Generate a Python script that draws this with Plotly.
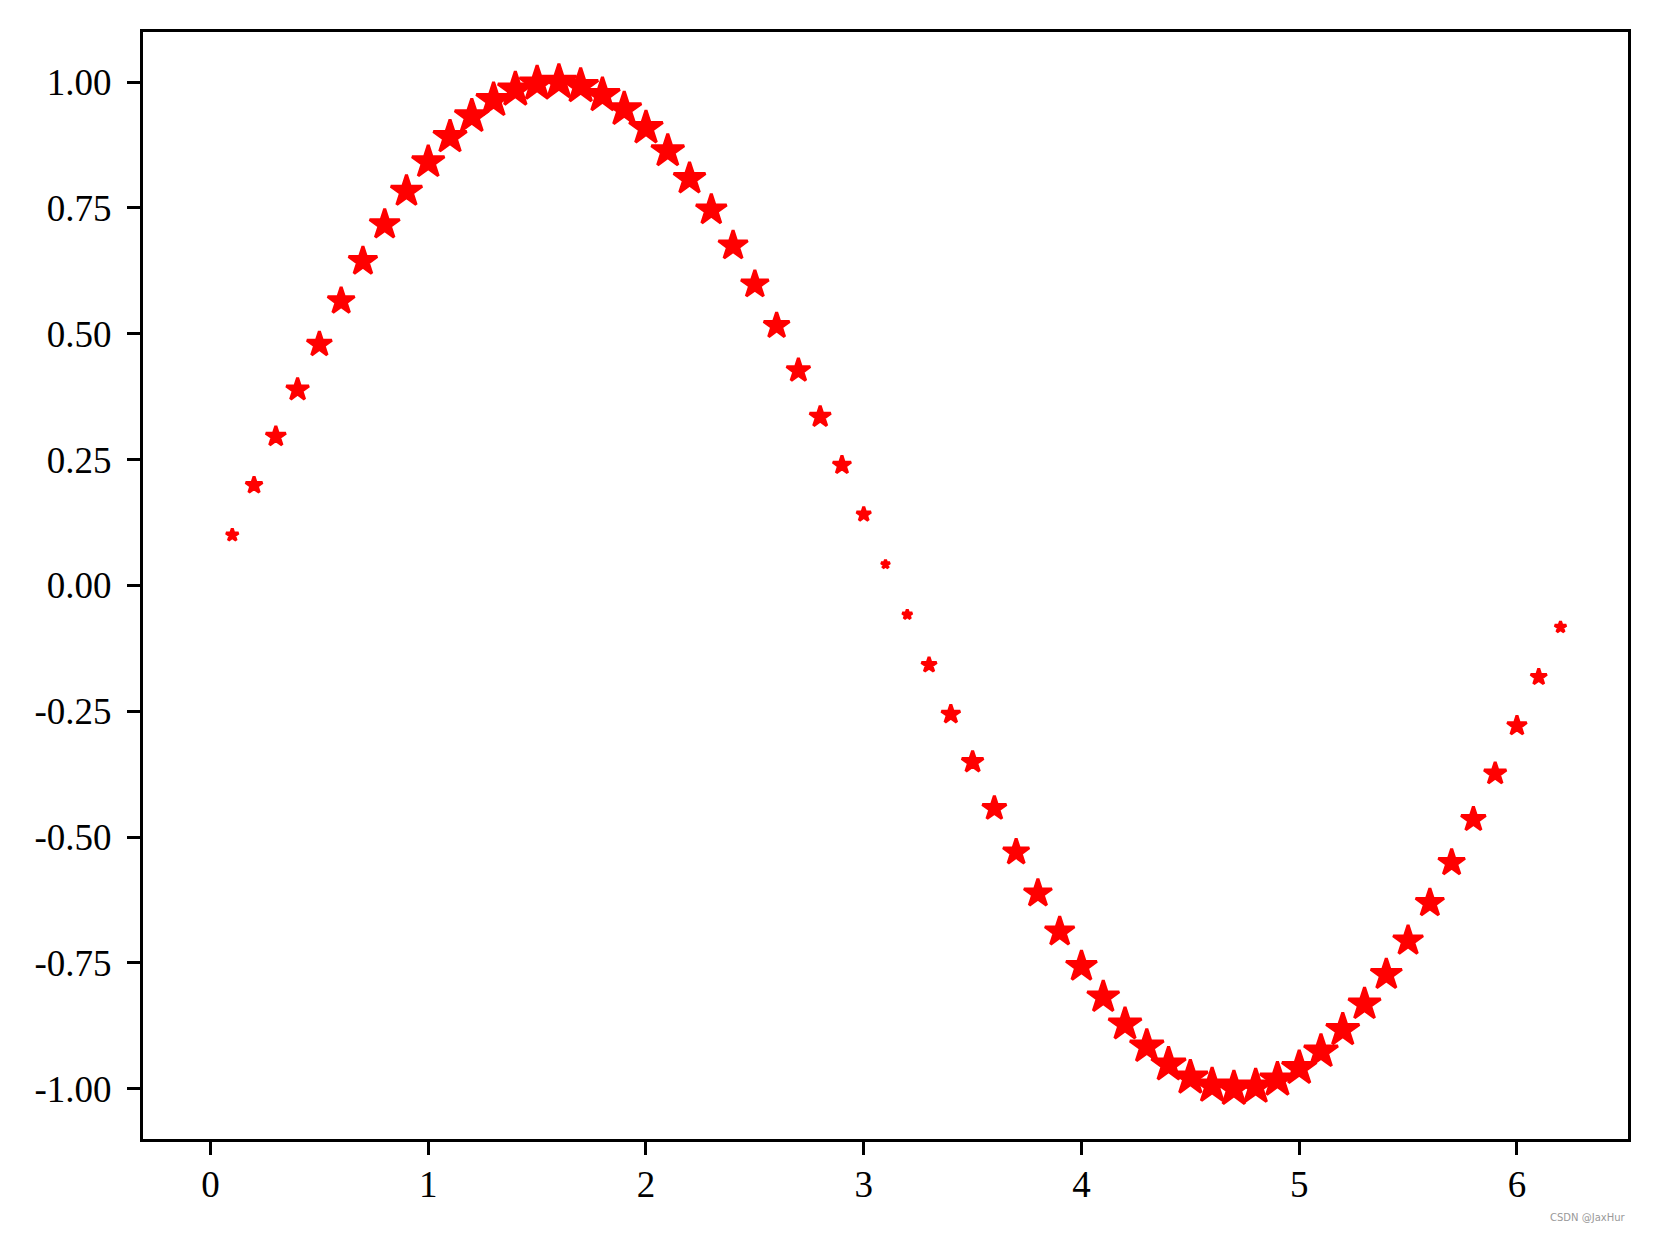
"""Sine wave drawn as red stars, marker size following |y|."""

import numpy as np
import plotly.graph_objects as go

x_values = [
    0.1, 0.2, 0.3, 0.4, 0.5, 0.6, 0.7, 0.8, 0.9, 1.0,
    1.1, 1.2, 1.3, 1.4, 1.5, 1.6, 1.7, 1.8, 1.9, 2.0,
    2.1, 2.2, 2.3, 2.4, 2.5, 2.6, 2.7, 2.8, 2.9, 3.0,
    3.1, 3.2, 3.3, 3.4, 3.5, 3.6, 3.7, 3.8, 3.9, 4.0,
    4.1, 4.2, 4.3, 4.4, 4.5, 4.6, 4.7, 4.8, 4.9, 5.0,
    5.1, 5.2, 5.3, 5.4, 5.5, 5.6, 5.7, 5.8, 5.9, 6.0,
    6.1, 6.2,
]
y_values = [
    0.100, 0.199, 0.296, 0.389, 0.479, 0.565, 0.644, 0.717, 0.783, 0.841,
    0.891, 0.932, 0.964, 0.985, 0.997, 1.000, 0.992, 0.974, 0.946, 0.909,
    0.863, 0.808, 0.746, 0.675, 0.598, 0.516, 0.427, 0.335, 0.239, 0.141,
    0.042, -0.058, -0.158, -0.256, -0.351, -0.443, -0.530, -0.612, -0.688, -0.757,
    -0.818, -0.872, -0.916, -0.952, -0.978, -0.994, -1.000, -0.996, -0.982, -0.959,
    -0.926, -0.883, -0.832, -0.773, -0.706, -0.631, -0.551, -0.465, -0.374, -0.279,
    -0.182, -0.083,
]
x_ticks = [0, 1, 2, 3, 4, 5, 6]
y_ticks = [1.0, 0.75, 0.5, 0.25, 0.0, -0.25, -0.5, -0.75, -1.0]
y_tick_labels = ["1.00", "0.75", "0.50", "0.25", "0.00", "-0.25", "-0.50", "-0.75", "-1.00"]

# marker area follows |y| (matplotlib-style s=|y|), plotly wants a diameter
sizes = 24.9 * np.sqrt(np.abs(y_values)) + 1.5

fig = go.Figure()
fig.add_trace(
    go.Scatter(
        x=x_values,
        y=y_values,
        mode="markers",
        marker=dict(
            symbol="star",
            size=sizes,
            color="#ff0000",
            opacity=1,
            line=dict(width=3, color="#ff0000"),
        ),
    )
)

axis_style = dict(
    showline=True,
    linecolor="black",
    linewidth=3,
    mirror=True,
    showgrid=False,
    zeroline=False,
    ticks="outside",
    ticklen=13,
    tickwidth=3,
    tickcolor="black",
    tickfont=dict(family="Liberation Serif", size=37, color="black"),
)

fig.update_layout(
    width=1641,
    height=1219,
    plot_bgcolor="white",
    paper_bgcolor="white",
    margin=dict(l=135, r=21, t=24, b=88),
    showlegend=False,
    xaxis=dict(range=[-0.31, 6.51], tickvals=x_ticks, ticklabelstandoff=-2, **axis_style),
    yaxis=dict(
        range=[-1.0999, 1.0995],
        tickvals=y_ticks,
        ticktext=y_tick_labels,
        ticklabelstandoff=8,
        **axis_style,
    ),
    annotations=[
        dict(
            text="CSDN @JaxHur",
            xref="paper",
            yref="paper",
            x=1.0,
            y=-0.0712,
            xanchor="right",
            yanchor="middle",
            showarrow=False,
            font=dict(family="DejaVu Sans", size=10, color="#999999"),
        )
    ],
)

fig.write_html("out.html")
